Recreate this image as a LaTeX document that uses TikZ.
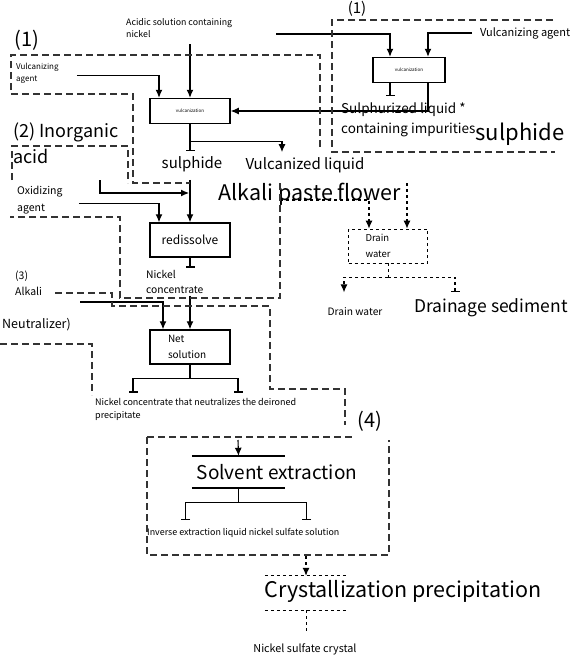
\documentclass[tikz,border=0pt]{standalone}
\usepackage{fontspec}
\setmainfont{Noto Sans CJK SC}
\usetikzlibrary{arrows.meta}

\tikzset{
  sz/.style 2 args={font=\fontsize{#1}{#2}\selectfont},
  proc/.style={draw, line width=1.5pt, minimum width=80pt, inner sep=1pt, align=left},
  lbl/.style={inner sep=0pt, align=left},
  flow/.style={-{Latex[length=8pt,width=7pt]}, line width=1.1pt},
  tee/.style={-{Bar[width=9pt,line width=1.4pt]}, line width=1.1pt},
  region/.style={dash pattern=on 7pt off 4pt, line width=1.2pt, black!80},
}

\begin{document}
\begin{tikzpicture}[x=1pt, y=-1pt]
  \useasboundingbox (0,0) rectangle (581,659);

  % stage labels
  \node[lbl, sz={20}{24}] at (27,40) (lab1) {(1)};
  \node[lbl, sz={15}{18}] at (357,9) (lab1b) {(1)};
  \node[lbl, sz={18}{26}, anchor=north west] at (13,123) (inorg) {(2) Inorganic\\acid};
  \node[lbl, sz={10.5}{16}, anchor=north west] at (15,271) (alk3) {(3)\\Alkali};
  \node[lbl, sz={12.5}{14}, anchor=west] at (2,325) (neut) {Neutralizer)};
  \node[lbl, sz={20}{24}] at (370,421) (lab4) {(4)};

  % feeds
  \node[lbl, sz={8.8}{12.5}, anchor=north west] at (126,18) (acid) {Acidic solution containing\\nickel};
  \node[lbl, sz={8}{11.5}, anchor=north west] at (16,63) (vag1) {Vulcanizing\\agent};
  \node[lbl, sz={11}{13}, anchor=west] at (480,33) (vag2) {Vulcanizing agent};
  \node[lbl, sz={10.5}{17}, anchor=north west] at (17,186) (oxid) {Oxidizing\\agent};

  % process boxes
  \node[proc, minimum width=72pt, minimum height=25pt, sz={4.5}{5}] at (409,70) (vulc2) {vulcanization};
  \node[proc, minimum height=25pt, sz={4.5}{5}] at (190,111) (vulc1) {vulcanization};
  \node[proc, minimum height=34pt, sz={12}{16}] at (190,240) (redis) {redissolve};
  \node[proc, minimum height=34pt, text width=44pt, sz={10}{16}] at (190,347) (netsol) {Net\\solution};
  \node[draw, thick, dashed, minimum width=79pt, minimum height=34pt, text width=45pt, align=left, sz={9.5}{16}] at (388,246) (drain) {Drain\\water};
  \node[inner sep=0pt, minimum width=93pt, minimum height=32pt] at (238.5,472) (solvbox) {};
  \node[inner sep=0pt, minimum width=82pt, minimum height=34pt] at (306,593) (crybox) {};
  \draw[line width=1.5pt] (solvbox.north west) -- (solvbox.north east);
  \draw[line width=1.5pt] (solvbox.south west) -- (solvbox.south east);
  \draw[thick, dashed] (crybox.north west) -- (crybox.north east);
  \draw[thick, dashed] (crybox.south west) -- (crybox.south east);

  % products
  \node[lbl, sz={13.5}{20}, anchor=north west] at (341,103) (sliq) {Sulphurized liquid *\\containing impurities};
  \node[lbl, sz={22}{24}] at (520,134) (sulph2) {sulphide};
  \node[lbl, sz={15}{20}] at (192,164) (sulph1) {sulphide};
  \node[lbl, sz={15}{20}] at (305,165) (vliq) {Vulcanized liquid};
  \node[lbl, sz={21.5}{24}] at (310,194) (alkpf) {Alkali paste flower};
  \node[lbl, sz={10.3}{15}, anchor=north west] at (146,270) (nickc) {Nickel\\concentrate};
  \node[lbl, sz={10.2}{12}] at (355,312) (dwat) {Drain water};
  \node[lbl, sz={17.5}{20}] at (491,308) (dsed) {Drainage sediment};
  \node[lbl, sz={9}{13.5}, anchor=north west] at (95,398) (ncdp) {Nickel concentrate that neutralizes the deironed\\precipitate};
  \node[lbl, sz={19}{24}] at (277,472) (solv) {Solvent extraction};
  \node[lbl, sz={8.9}{12}, anchor=north west] at (147,528) (inv) {Inverse extraction liquid nickel sulfate solution};
  \node[lbl, sz={21.5}{24}] at (403,591) (cryst) {Crystallization precipitation};
  \node[lbl, sz={10.8}{12}] at (305,649) (nsc) {Nickel sulfate crystal};

  % stage (1)
  \coordinate (a1) at (276,34);
  \draw[flow] (vulc1.north |- acid.south) ++(0,6) -- (vulc1.north);
  \draw[flow] (a1) -| ([xshift=-19]vulc2.north);
  \draw[flow] (vag2.west) ++(-8,0) -| ([xshift=19]vulc2.north);
  \draw[flow] (vag1.east) ++(18,2) -| ([xshift=-31]vulc1.north);
  \draw[tee] ([xshift=-19]vulc2.south) -- ++(0,13);
  \draw[flow] ([xshift=19]vulc2.south) |- (vulc1.east);
  \draw[line width=1.1pt] (vulc1.south) -- ++(0,17) coordinate (v1s);
  \draw[tee] (v1s) -- ++(0,10);
  \draw[flow] (v1s) -| ([xshift=-23,yshift=5]vliq.north);

  % stage (2)
  \coordinate (ia) at (100,180);
  \coordinate (j1) at (189,193);
  \draw[flow] (redis.north |- sulph1.south) ++(0,8) -- (redis.north);
  \draw[flow] (ia) |- (j1);
  \draw[flow] (oxid.east) ++(16,3) -| ([xshift=-31]redis.north);
  \draw[tee] (redis.south) -- ++(0,10);

  % stage (3)
  \coordinate (n0) at (80,302);
  \draw[flow] (netsol.north |- nickc.south) ++(0,2) -- (netsol.north);
  \draw[flow] (n0) -| ([xshift=-27]netsol.north);
  \draw[line width=1.1pt] (netsol.south) -- ++(0,14) coordinate (ns);
  \draw[tee] (ns) -| ++(-57,14);
  \draw[tee] (ns) -| ++(48,14);

  % drain water
  \coordinate (d1) at (280,200);
  \coordinate (d2) at (407,183);
  \draw[flow, dashed] (d1) -| ([xshift=-19]drain.north);
  \draw[flow, dashed] (d2) -- ([xshift=19]drain.north);
  \draw[thick, dashed] (drain.south) -- ++(0,14) coordinate (dw);
  \draw[flow, dashed] (dw) -| ++(-44,15);
  \draw[tee, dashed] (dw) -| ++(67,15);

  % stage (4)
  \coordinate (s0) at (238,440);
  \coordinate (c0) at (306,556);
  \draw[flow] (s0) -- (solvbox.north);
  \draw[line width=1.1pt] (solvbox.south) -- ++(0,14) coordinate (se);
  \draw[tee] (se) -| ++(-53,18);
  \draw[tee] (se) -| ++(68,18);
  \draw[flow, dashed] (c0) -- (crybox.north);
  \draw[thick, dashed] (crybox.south) -- ++(0,23);

  % dashed stage borders
  \draw[region] (11,90) -- (11,55) -- (320,55) -- (320,150);
  \draw[region] (11,94) -- (133,94) -- (133,183) -- (190,183);
  \draw[region] (553,20) -- (332,20) -- (332,152) -- (555,152);
  \draw[region] (12,180) -- (12,146) -- (128,146) -- (128,183);
  \draw[region] (280,183) -- (280,298) -- (120,298) -- (120,217) -- (10,217);
  \draw[region] (55,293) -- (112,293) -- (112,306) -- (270,306) -- (270,389) -- (345,389) -- (345,425);
  \draw[region] (0,344) -- (92,344) -- (92,395);
  \draw[region] (147,437) -- (352,437);
  \draw[region] (147,437) -- (147,555) -- (389,555) -- (389,440);
\end{tikzpicture}
\end{document}
